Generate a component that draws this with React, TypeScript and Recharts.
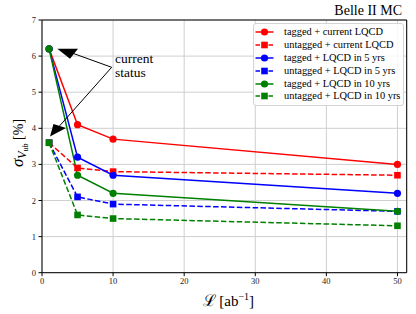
import React from 'react';
import {
  LineChart,
  Line,
  XAxis,
  YAxis,
  CartesianGrid,
  ReferenceLine,
  ReferenceDot,
  Legend,
  Customized,
} from 'recharts';

// ---- data ----
const luminosity = [1, 5, 10, 50];
const taggedCurrent = [6.2, 4.1, 3.7, 3.0];
const untaggedCurrent = [3.6, 2.9, 2.8, 2.7];
const tagged5 = [6.2, 3.2, 2.7, 2.2];
const untagged5 = [3.6, 2.1, 1.9, 1.7];
const tagged10 = [6.2, 2.7, 2.2, 1.7];
const untagged10 = [3.6, 1.6, 1.5, 1.3];

const xTicks = [0, 10, 20, 30, 40, 50];
const yTicks = [0, 1, 2, 3, 4, 5, 6, 7];
const xMax = 51.3;
const yMax = 7;

const seriesNames = [
  'tagged + current LQCD',
  'untagged + current LQCD',
  'tagged + LQCD in 5 yrs',
  'untagged + LQCD in 5 yrs',
  'tagged + LQCD in 10 yrs',
  'untagged + LQCD in 10 yrs',
];
const seriesValues = [taggedCurrent, untaggedCurrent, tagged5, untagged5, tagged10, untagged10];
const seriesColors = ['#ff0000', '#ff0000', '#0000ff', '#0000ff', '#008000', '#008000'];
const seriesDashed = [false, true, false, true, false, true];

const annotationText = ['current', 'status'];
const annotationAnchor = { x: 9.8, y: 5.69 };
const annotationTextPos = { x: 10.26, y: 5.8 };
const arrowBase1 = { x: 4.5, y: 6.066 };
const arrowTip1 = { x: 2.15, y: 6.205 };
const arrowBase2 = { x: 2.46, y: 4.064 };
const arrowTip2 = { x: 1.125, y: 3.773 };

const data = luminosity.map((l, i) => {
  const row: Record<string, number> = { l };
  seriesValues.forEach((vals, s) => {
    row['s' + s] = vals[i];
  });
  return row;
});

const FONT = 'Liberation Serif, DejaVu Serif, serif';
const DASH = '5.5 2.4';

const circleDot = (color: string) => (props: any) => {
  const { cx, cy, index } = props;
  if (cx == null || cy == null) return <g key={'c' + index} />;
  return <circle key={'c' + index} cx={cx} cy={cy} r={3.6} fill={color} stroke="none" />;
};
const squareDot = (color: string) => (props: any) => {
  const { cx, cy, index } = props;
  if (cx == null || cy == null) return <g key={'q' + index} />;
  const s = 6.6;
  return <rect key={'q' + index} x={cx - s / 2} y={cy - s / 2} width={s} height={s} fill={color} stroke="none" />;
};

const LegendBox = () => (
  <div
    style={{
      boxSizing: 'border-box',
      width: 151,
      height: 83,
      border: '1px solid #d4d4d4',
      borderRadius: 3,
      background: 'rgba(255,255,255,0.85)',
      paddingTop: 1.8,
      paddingLeft: 1.5,
      fontFamily: FONT,
      fontSize: 10.4,
      color: '#000',
    }}
  >
    {seriesNames.map((name, i) => (
      <div key={name} style={{ height: 12.95, display: 'flex', alignItems: 'center', whiteSpace: 'nowrap' }}>
        <svg width={19} height={10} style={{ flex: 'none' }}>
          <line
            x1={0.5}
            y1={5}
            x2={18.5}
            y2={5}
            stroke={seriesColors[i]}
            strokeWidth={1.5}
            strokeDasharray={seriesDashed[i] ? '4.5 2' : undefined}
          />
          {seriesDashed[i] ? (
            <rect x={9.5 - 3.3} y={5 - 3.3} width={6.6} height={6.6} fill={seriesColors[i]} />
          ) : (
            <circle cx={9.5} cy={5} r={3.6} fill={seriesColors[i]} />
          )}
        </svg>
        <span style={{ marginLeft: 10, lineHeight: '12px' }}>{name}</span>
      </div>
    ))}
  </div>
);

const XLabel = (props: any) => {
  const vb = props.viewBox || { x: 42, width: 364.7, y: 272.7 };
  const cx = vb.x + vb.width / 2 + 4;
  return (
    <text x={cx} y={vb.y + 33.5} textAnchor="middle" style={{ fontFamily: FONT }} fill="#000">
      <tspan fontSize={16}>ℒ</tspan>
      <tspan fontSize={15}>{'\u00a0[ab'}</tspan>
      <tspan fontSize={10} dy={-6}>−1</tspan>
      <tspan fontSize={15} dy={6}>]</tspan>
    </text>
  );
};

const YLabel = () => {
  const cx = 23;
  const cy = 143;
  return (
    <text x={cx} y={cy} textAnchor="middle" transform={`rotate(-90, ${cx}, ${cy})`} style={{ fontFamily: FONT }} fill="#000">
      <tspan fontSize={17} fontStyle="italic">σ</tspan>
      <tspan fontSize={12} fontStyle="italic" dy={3}>V</tspan>
      <tspan fontSize={8} fontStyle="italic" dy={1.5}>ub</tspan>
      <tspan fontSize={14} dy={-4.5}>{'\u00a0[%]'}</tspan>
    </text>
  );
};

const Title = () => (
  <text x={402} y={15} textAnchor="end" style={{ fontFamily: FONT }} fontSize={14} fill="#000">
    Belle II MC
  </text>
);

const AnnotationText = (props: any) => {
  const { cx, cy } = props;
  return (
    <g>
      <text x={cx} y={cy} style={{ fontFamily: FONT }} fontSize={13.5} fill="#000">
        {annotationText[0]}
      </text>
      <text x={cx} y={cy + 14} style={{ fontFamily: FONT }} fontSize={13.5} fill="#000">
        {annotationText[1]}
      </text>
    </g>
  );
};

const Head1 = (props: any) => {
  const { cx, cy } = props;
  return <polygon points={`${cx},${cy} ${cx + 20.7},${cy} ${cx + 12.7},${cy + 10}`} fill="#000" />;
};
const Head2 = (props: any) => {
  const { cx, cy } = props;
  return <polygon points={`${cx},${cy} ${cx + 3.5},${cy - 12.5} ${cx + 16},${cy - 8.5}`} fill="#000" />;
};

const tickStyle = { fontFamily: FONT, fontSize: 8.5, fill: '#222' };

export default function App() {
  return (
    <div style={{ position: 'absolute', left: 0, top: 0, width: 416, height: 314, background: '#fff', fontFamily: FONT }}>
      <LineChart
        width={416}
        height={314}
        data={data}
        margin={{ top: 20, right: 9.3, bottom: 11.3, left: 12 }}
        style={{ fontFamily: FONT }}
      >
        <CartesianGrid stroke="#cfcfcf" strokeWidth={1} />
        <XAxis
          dataKey="l"
          type="number"
          domain={[0, xMax]}
          ticks={xTicks}
          allowDataOverflow
          height={30}
          tickSize={3.5}
          tickMargin={2}
          stroke="#000"
          tick={tickStyle}
          tickLine={{ stroke: '#000' }}
          axisLine={{ stroke: '#000', strokeWidth: 1 }}
          label={<XLabel />}
        />
        <YAxis
          type="number"
          domain={[0, yMax]}
          ticks={yTicks}
          allowDataOverflow
          width={30}
          tickSize={3.5}
          tickMargin={2.5}
          stroke="#000"
          tick={tickStyle}
          tickLine={{ stroke: '#000' }}
          axisLine={{ stroke: '#000', strokeWidth: 1 }}
          label={<YLabel />}
        />
        <ReferenceLine y={yMax} stroke="#000" strokeWidth={1} ifOverflow="visible" />
        <ReferenceLine x={xMax} stroke="#000" strokeWidth={1} ifOverflow="visible" />
        {seriesNames.map((name, i) => (
          <Line
            key={name}
            name={name}
            dataKey={'s' + i}
            type="linear"
            stroke={seriesColors[i]}
            strokeWidth={1.5}
            strokeDasharray={seriesDashed[i] ? DASH : undefined}
            dot={seriesDashed[i] ? squareDot(seriesColors[i]) : circleDot(seriesColors[i])}
            activeDot={false}
            isAnimationActive={false}
          />
        ))}
        <ReferenceLine segment={[annotationAnchor, arrowBase1]} stroke="#000" strokeWidth={1} />
        <ReferenceLine segment={[annotationAnchor, arrowBase2]} stroke="#000" strokeWidth={1} />
        <ReferenceDot x={arrowTip1.x} y={arrowTip1.y} shape={<Head1 />} />
        <ReferenceDot x={arrowTip2.x} y={arrowTip2.y} shape={<Head2 />} />
        <ReferenceDot x={annotationTextPos.x} y={annotationTextPos.y} shape={<AnnotationText />} />
        <Customized component={<Title />} />
        <Legend
          layout="horizontal"
          verticalAlign="middle"
          align="center"
          wrapperStyle={{ left: 252.5, top: 22.5, width: 151, height: 83 }}
          content={() => <LegendBox />}
        />
      </LineChart>
    </div>
  );
}
